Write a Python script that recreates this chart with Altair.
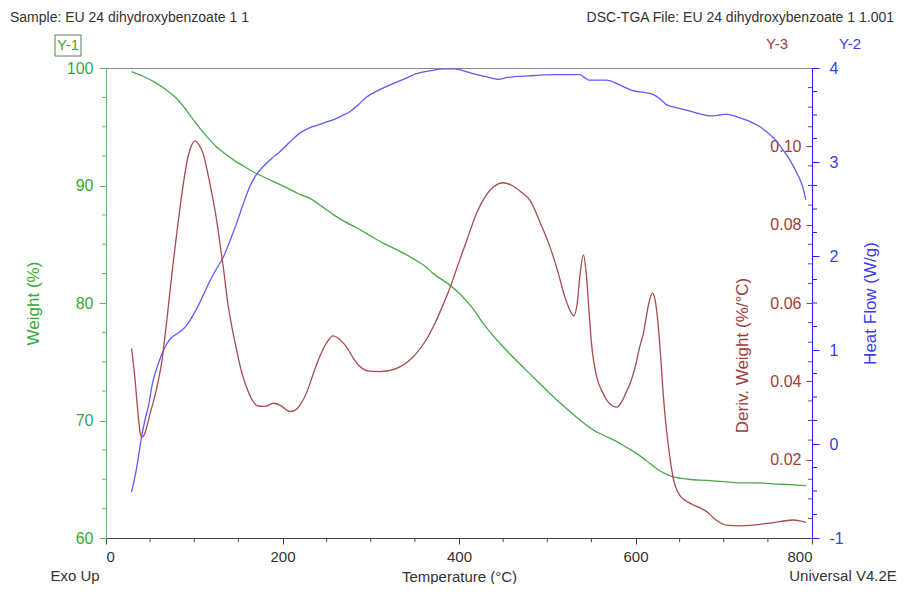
import altair as alt
import pandas as pd

# ---------------- data ----------------
temp_w = [29, 42, 55, 69, 80, 88, 97, 106, 115, 125, 135, 144, 157, 171, 188, 205, 218, 231, 245, 258,
          271, 284, 300, 314, 333, 352, 362, 371, 390, 402, 416, 428, 446, 465, 484, 503, 522, 541, 552, 565,
          579, 590, 601, 612, 624, 633, 643, 660, 681, 700, 718, 737, 756, 775, 793]
weight = [99.7, 99.3, 98.8, 98.1, 97.4, 96.7, 95.8, 94.9, 94.1, 93.3, 92.7, 92.2, 91.6, 91.0, 90.4, 89.8,
          89.3, 88.9, 88.2, 87.5, 86.9, 86.4, 85.7, 85.1, 84.4, 83.6, 83.1, 82.5, 81.5, 80.7, 79.5, 78.2, 76.6,
          75.1, 73.7, 72.3, 71.0, 69.8, 69.2, 68.7, 68.2, 67.7, 67.2, 66.6, 65.9, 65.5, 65.2, 65.0, 64.9,
          64.8, 64.7, 64.7, 64.6, 64.55, 64.45]

temp_h = [29, 35, 40, 44, 48, 53, 58, 63, 68, 73, 80, 86, 92, 98, 104, 111, 118, 125, 133, 140, 148, 155,
          163, 170, 178, 188, 197, 208, 220, 230, 239, 248, 258, 267, 277, 286, 295, 308, 322, 337, 352,
          367, 382, 395, 409, 420, 430, 444, 455, 465, 485, 503, 520, 537, 542, 548, 557, 567, 582, 597,
          610, 620, 628, 635, 645, 654, 670, 684, 695, 703, 715, 730, 740, 749, 758, 767, 775, 783, 789, 793]
heat = [-0.51, -0.24, 0.06, 0.25, 0.40, 0.66, 0.82, 0.95, 1.05, 1.12, 1.17, 1.21, 1.27, 1.36, 1.46, 1.60,
        1.74, 1.86, 1.99, 2.15, 2.35, 2.54, 2.74, 2.86, 2.95, 3.04, 3.11, 3.21, 3.31, 3.36, 3.39, 3.42,
        3.45, 3.49, 3.54, 3.61, 3.69, 3.76, 3.82, 3.88, 3.94, 3.97, 3.99, 3.99, 3.96, 3.93, 3.91, 3.88,
        3.90, 3.91, 3.92, 3.93, 3.93, 3.93, 3.90, 3.87, 3.87, 3.87, 3.82, 3.76, 3.74, 3.72, 3.67, 3.61,
        3.58, 3.56, 3.52, 3.49, 3.50, 3.51, 3.48, 3.43, 3.38, 3.32, 3.24, 3.13, 3.02, 2.88, 2.75, 2.60]

temp_d = [29, 31, 33, 35, 37, 39, 41, 44, 47, 50, 54, 57, 60, 63, 66, 69, 72, 76, 80, 84, 88, 93, 97, 101,
          105, 110, 115, 119, 124, 128, 133, 138, 143, 148, 153, 159, 165, 172, 180, 190, 198, 208, 214,
          220, 228, 235, 242, 250, 257, 262, 268, 273, 280, 288, 298, 310, 322, 333, 343, 352, 362, 371,
          380, 390, 400, 409, 420, 431, 440, 450, 460, 470, 481, 492, 503, 512, 520, 526, 530, 534, 537,
          541, 544, 547, 550, 556, 562, 568, 574, 579, 585, 590, 594, 600, 605, 609, 613, 616, 619, 622,
          625, 628, 631, 634, 637, 640, 643, 647, 651, 657, 665, 672, 681, 688, 696, 705, 718, 730, 741,
          752, 764, 779, 786, 793]
deriv = [0.0484, 0.0445, 0.0403, 0.0350, 0.0301, 0.0265, 0.0258, 0.0267, 0.0290, 0.0318, 0.0350, 0.0378,
         0.0410, 0.0446, 0.0500, 0.0557, 0.0620, 0.0700, 0.0775, 0.0846, 0.0910, 0.0974, 0.1003, 0.1014,
         0.1005, 0.0982, 0.0935, 0.0890, 0.0830, 0.0770, 0.0690, 0.0600, 0.0535, 0.0480, 0.0430, 0.0386,
         0.0355, 0.0337, 0.0336, 0.0344, 0.0338, 0.0323, 0.0326, 0.0340, 0.0375, 0.0420, 0.0462, 0.0498,
         0.0516, 0.0512, 0.0500, 0.0486, 0.0460, 0.0437, 0.0426, 0.0425, 0.0428, 0.0437, 0.0452, 0.0472,
         0.0503, 0.0540, 0.0585, 0.0640, 0.0705, 0.0761, 0.0830, 0.0876, 0.0898, 0.0907, 0.0900, 0.0884,
         0.0860, 0.0805, 0.0744, 0.0680, 0.0615, 0.0580, 0.0567, 0.0600, 0.0670, 0.0723, 0.0680, 0.0590,
         0.0500, 0.0412, 0.0375, 0.0350, 0.0337, 0.0334, 0.0350, 0.0375, 0.0395, 0.0440, 0.0490, 0.0523,
         0.0575, 0.0608, 0.0625, 0.0610, 0.0560, 0.0480, 0.0380, 0.0300, 0.0240, 0.0190, 0.0150, 0.0122,
         0.0106, 0.0095, 0.0085, 0.0078, 0.0067, 0.0052, 0.0039, 0.0032, 0.0031, 0.0032, 0.0035, 0.0038,
         0.0042, 0.0046, 0.0044, 0.0040]

# tick values
x_ticks = [0, 200, 400, 600, 800]
x_minor = [50, 100, 150, 250, 300, 350, 450, 500, 550, 650, 700, 750]
w_ticks = [60, 70, 80, 90, 100]
w_minor = [62.5, 65, 67.5, 72.5, 75, 77.5, 82.5, 85, 87.5, 92.5, 95, 97.5]
h_ticks = [-1, 0, 1, 2, 3, 4]
h_minor = [-0.75, -0.5, -0.25, 0.25, 0.5, 0.75, 1.25, 1.5, 1.75, 2.25, 2.5, 2.75, 3.25, 3.5, 3.75]
d_ticks = [0.02, 0.04, 0.06, 0.08, 0.10]
d_minor = [0.005, 0.01, 0.015, 0.025, 0.03, 0.035, 0.045, 0.05, 0.055, 0.065, 0.07, 0.075,
           0.085, 0.09, 0.095, 0.105, 0.11, 0.115]

# ---------------- styling ----------------
W, H = 706, 470
FONT = "Liberation Sans"
GREEN_LINE = "#4aa84a"
GREEN_AX = "#66bb66"
GREEN_TXT = "#3aa83a"
BLUE_LINE = "#5c5cff"
BLUE_AX = "#2020ff"
BLUE_TXT = "#3b3bf0"
RED_LINE = "#a84c4c"
RED_TXT = "#a03c3c"
GRAY = "#444444"

x_scale = alt.Scale(domain=[0, 800], nice=False, zero=False)
w_scale = alt.Scale(domain=[60, 100], nice=False, zero=False)
h_scale = alt.Scale(domain=[-1, 4], nice=False, zero=False)
d_scale = alt.Scale(domain=[0, 0.12], nice=False, zero=False)

x_axis = alt.Axis(values=x_ticks, orient="bottom", title="Temperature (°C)", format="d",
                  domainColor=GRAY, tickColor=GRAY, tickSize=6, labelColor="#333333",
                  labelFontSize=15, labelPadding=5, titleFontSize=15, titleColor="#333333",
                  titleFontWeight="normal", titleY=38, titleBaseline="middle", grid=False)

w_axis = alt.Axis(
    orient="left", values=w_ticks, title="Weight (%)", domainColor=GREEN_AX, tickColor=GREEN_AX,
    tickSize=7, labelColor=GREEN_TXT, labelFontSize=16, labelPadding=6, titleColor=GREEN_TXT,
    titleFontSize=17, titleFontWeight="normal", titleX=-73, titleY=235, titleAngle=270,
    titleBaseline="middle", titleAlign="center", grid=False)
h_axis = alt.Axis(
    orient="right", values=h_ticks, title="Heat Flow (W/g)", labelExpr="'' + datum.value",
    domainColor=BLUE_AX, tickColor=BLUE_AX, tickSize=7, labelColor=BLUE_TXT, labelFontSize=16,
    labelPadding=10, titleColor=BLUE_TXT, titleFontSize=17, titleFontWeight="normal",
    titleX=58, titleY=235, titleAngle=270, titleBaseline="middle", titleAlign="center", grid=False)
d_axis = alt.Axis(
    orient="left", offset=-W, values=d_ticks, format=".2f", title="Deriv. Weight (%/°C)",
    domain=False, tickColor=RED_TXT, tickSize=6, labelColor=RED_TXT, labelFontSize=16,
    labelPadding=5, titleColor=RED_TXT, titleFontSize=17, titleFontWeight="normal",
    titleX=-70, titleY=287, titleAngle=270, titleBaseline="middle", titleAlign="center", grid=False)

df_w = pd.DataFrame({"T": temp_w, "W": weight})
df_h = pd.DataFrame({"T": temp_h, "H": heat})
df_d = pd.DataFrame({"T": temp_d, "D": deriv})

X = alt.X("T:Q", scale=x_scale, axis=x_axis)

weight_line = alt.Chart(df_w).mark_line(color=GREEN_LINE, strokeWidth=1.3, interpolate="monotone").encode(
    x=X, y=alt.Y("W:Q", scale=w_scale, axis=w_axis))
weight_minor = alt.Chart(pd.DataFrame({"W": w_minor})).mark_rule(color=GREEN_AX).encode(
    y=alt.Y("W:Q", scale=w_scale, axis=w_axis), x=alt.value(-4), x2=alt.value(0))
x_minor_rules = alt.Chart(pd.DataFrame({"T": x_minor})).mark_rule(color=GRAY).encode(
    x=X, y=alt.value(H), y2=alt.value(H + 4))

heat_line = alt.Chart(df_h).mark_line(color=BLUE_LINE, strokeWidth=1.3, interpolate="monotone").encode(
    x=X, y=alt.Y("H:Q", scale=h_scale, axis=h_axis))
heat_minor = alt.Chart(pd.DataFrame({"H": h_minor})).mark_rule(color=BLUE_AX).encode(
    y=alt.Y("H:Q", scale=h_scale, axis=h_axis), x=alt.value(W), x2=alt.value(W + 5))

deriv_line = alt.Chart(df_d).mark_line(color=RED_LINE, strokeWidth=1.3, interpolate="monotone").encode(
    x=X, y=alt.Y("D:Q", scale=d_scale, axis=d_axis))
deriv_minor = alt.Chart(pd.DataFrame({"D": d_minor})).mark_rule(color=RED_TXT).encode(
    y=alt.Y("D:Q", scale=d_scale, axis=d_axis), x=alt.value(W - 4), x2=alt.value(W))

one = pd.DataFrame({"k": [0]})


def label(txt, x, y, color="#333333", size=14, align="left"):
    return alt.Chart(one).mark_text(x=x, y=y, align=align, baseline="middle", fontSize=size,
                                    font=FONT, color=color).encode(text=alt.value(txt))


texts = [
    label("Sample: EU 24 dihydroxybenzoate 1 1", -96, -50),
    label("DSC-TGA File: EU 24 dihydroxybenzoate 1 1.001", 788, -50, align="right"),
    label("Y-1", -38, -23, color=GREEN_TXT, size=15, align="center"),
    label("Y-3", 671, -24, color=RED_TXT, size=15, align="center"),
    label("Y-2", 744, -24, color=BLUE_TXT, size=15, align="center"),
    label("Exo Up", -31, 508, size=15, align="center"),
    label("Universal V4.2E", 737, 508, size=15, align="center"),
]
box = alt.Chart(one).mark_rect(x=-51, x2=-25, y=-33, y2=-12, fillOpacity=0, stroke="#5a7a5a",
                               strokeWidth=1).encode(color=alt.value("white"))

chart = alt.layer(
    alt.layer(weight_line, weight_minor, x_minor_rules),
    alt.layer(heat_line, heat_minor),
    alt.layer(deriv_line, deriv_minor),
    box,
    *texts,
).resolve_scale(y="independent").properties(
    width=W, height=H,
    autosize=alt.AutoSizeParams(type="none"),
    padding={"left": 98, "top": 60, "right": 92, "bottom": 46},
).configure_view(stroke="#888888", strokeWidth=1).configure_axis(
    labelFont=FONT, titleFont=FONT
)

chart.save("out.html", embed_options={"renderer": "svg", "actions": False})
